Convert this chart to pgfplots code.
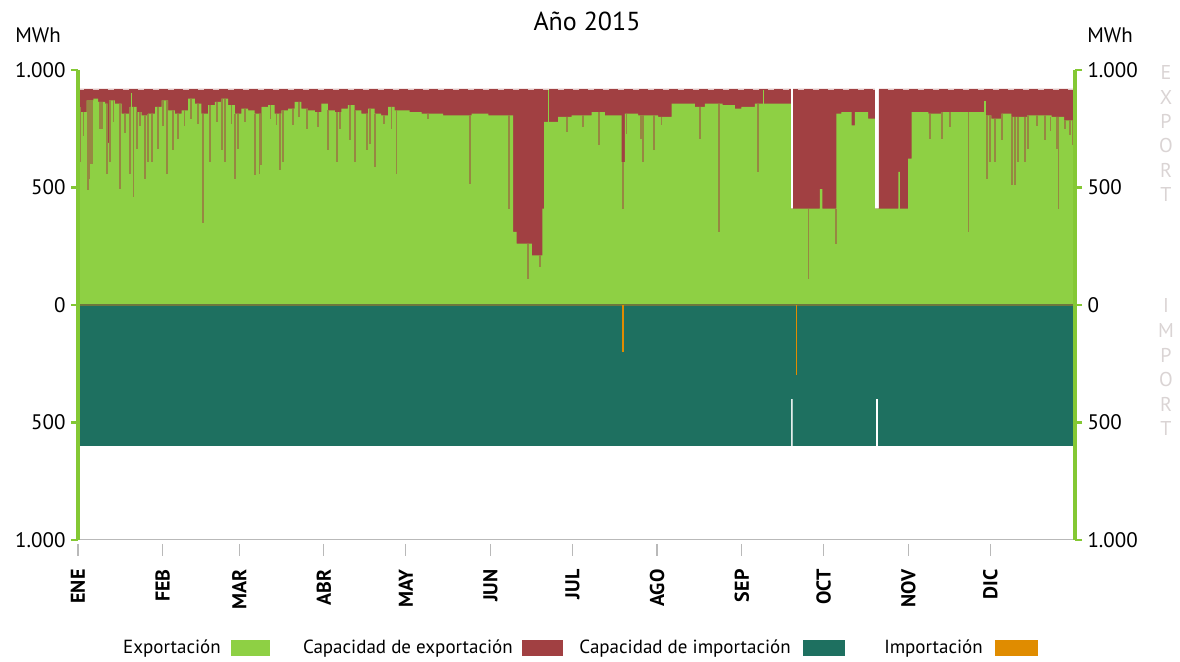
\documentclass[border=0pt]{standalone}
\usepackage{pgfplots}
\pgfplotsset{compat=1.18}
\usepackage{pgfplotstable}
\usepackage{fontspec}
\setmainfont{PT Sans}

\definecolor{expgreen}{RGB}{142,208,68}
\definecolor{capred}{RGB}{161,64,66}
\definecolor{impteal}{RGB}{30,112,96}
\definecolor{imporange}{RGB}{224,140,0}
\definecolor{dipolive}{RGB}{151,135,66}
\definecolor{axgreen}{RGB}{132,200,52}
\definecolor{lblgray}{RGB}{218,212,212}
\definecolor{zeroline}{RGB}{110,118,62}

% export level (MWh), step per day range
\pgfplotstableread{
x y
0 843
0.73 821
3.2 871
5.6 878
7.4 864
9.9 857
10.8 690
11.4 871
13.5 857
16.0 814
19.0 843
21.5 821
23.3 807
25.7 814
28.2 843
30.6 871
33.0 828
35.5 814
37.9 828
40.3 878
42.8 857
45.2 814
47.6 850
50.1 864
52.5 878
55.0 850
57.4 814
59.8 836
62.3 828
64.7 814
67.2 843
69.6 850
72.0 814
74.5 828
76.9 836
79.3 864
81.8 836
84.2 828
86.7 821
89.1 857
91.5 828
94.0 821
96.4 836
98.8 850
101.3 828
103.7 814
106.2 836
108.6 814
111.0 807
113.5 843
115.9 828
121.4 821
125.8 814
133.7 807
144.1 814
150.2 807
159.3 311
160.6 261
166.2 211
170.0 410
170.6 779
175.8 800
180.7 807
188.0 821
192.9 807
199.0 608
200.2 814
205.1 807
212.4 800
217.3 857
225.8 843
229.5 857
236.0 850
240.5 836
242.9 843
247.8 857
261.0 410
271.6 493
272.5 410
277.6 814
279.5 821
283.2 764
284.4 821
289.3 793
291.7 410
300.3 566
300.9 410
303.9 623
305.2 821
311.3 814
316.1 821
332.0 807
334.4 793
338.0 814
341.7 800
347.8 807
356.4 800
361.0 786
365 786
}\export

% short drops of the export: day, level, lowest value
\pgfplotstableread{
x top low
0.7 843 608
2.0 821 720
3.8 871 489
4.4 871 538
5.0 871 600
8.1 864 750
8.7 864 750
10.5 857 559
11.7 871 608
13.0 871 780
15.4 857 495
17.2 814 730
19.0 843 559
20.3 843 460
21.5 821 665
22.6 821 760
24.5 807 538
25.7 814 608
27.0 814 608
29.4 843 665
31.2 871 760
32.5 871 559
34.9 828 658
36.7 814 708
39.0 828 760
41.5 878 790
44.0 857 770
45.9 814 347
48.3 850 608
50.8 864 780
52.6 878 658
53.8 878 608
56.2 850 770
57.5 814 538
58.7 814 665
61.0 836 780
64.8 814 552
66.6 814 559
67.2 843 594
70.5 850 790
72.7 814 764
73.9 814 573
75.1 828 608
78.8 836 764
81.0 864 800
83.7 836 750
87.9 821 757
91.6 828 658
94.7 821 608
95.9 821 750
99.6 850 700
101.4 828 608
105.7 814 658
106.9 836 686
108.7 814 587
112.0 807 770
114.8 843 750
116.6 828 559
128.0 814 790
143.5 807 516
157.8 807 410
164.8 261 112
169.1 211 161
178.9 800 736
185.0 807 757
190.8 821 679
199.6 608 410
200.8 814 729
206.0 807 708
206.9 807 608
210.9 807 658
213.6 800 764
227.7 843 708
234.7 857 311
249.0 857 566
267.4 410 112
277.4 410 261
311.9 814 708
316.2 821 708
319.3 821 757
326.0 821 311
332.7 807 538
333.9 807 608
335.7 793 608
338.2 814 700
341.8 800 512
343.0 800 512
344.2 800 608
346.7 800 608
347.9 807 665
351.0 807 760
354.0 807 700
356.0 800 740
358.3 800 665
358.9 800 410
361.3 786 750
363.1 786 722
364.4 786 679
}\dips

\begin{document}
\begin{tikzpicture}[x=1pt,y=1pt]
\path[use as bounding box] (0,0) rectangle (1180,661);

\begin{axis}[
  at={(78pt,121pt)}, anchor=south west,
  scale only axis, width=997pt, height=470pt,
  xmin=0, xmax=365, ymin=-1000, ymax=1000,
  clip=false,
  axis line style={draw=none},
  ytick={-1000,-500,0,500,1000},
  yticklabels={{1.000},{500},{0},{500},{1.000}},
  ytick pos=left,
  ytick style={axgreen, line width=2.6pt},
  tick align=outside, major tick length=7pt,
  yticklabel style={font=\fontsize{21}{23}\selectfont, xshift=-2pt},
  xtick={0,31,59,90,120,151,181,212,243,273,304,334},
  xticklabels={ENE,FEB,MAR,ABR,MAY,JUN,JUL,AGO,SEP,OCT,NOV,DIC},
  xtick pos=bottom,
  xtick style={draw=none},
  xticklabel style={rotate=90, anchor=east, font=\bfseries\fontsize{20}{21}\selectfont, xshift=-19pt},
]
% export capacity
\addplot[fill=capred, draw=none] coordinates {
 (0,920) (261.0,920) (261.0,410) (261.8,410) (261.8,920)
 (291.7,920) (291.7,410) (293.2,410) (293.2,920) (365,920)} \closedcycle;
% export
\addplot[const plot, fill=expgreen, draw=none] table[x=x,y=y] {\export} \closedcycle;
\addplot[ycomb, draw=dipolive, line width=1.8pt] table[x=x,y=top] {\dips};
\addplot[ycomb, draw=expgreen, line width=2.5pt] table[x=x,y=low] {\dips};
\addplot[ycomb, draw=expgreen, line width=1.3pt] coordinates {(19.5,900) (172.2,918) (250.9,915) (332.0,866)};
% import capacity
\addplot[fill=impteal, draw=none] coordinates {
 (0,-600) (261.1,-600) (261.1,-400) (261.6,-400) (261.6,-600)
 (292.1,-600) (292.1,-400) (292.9,-400) (292.9,-600) (365,-600)} \closedcycle;
\addplot[zeroline, line width=1.2pt] coordinates {(0,0) (365,0)};
% import
\addplot[ycomb, draw=imporange, line width=1.6pt] coordinates {(199.6,-199) (263.0,-298)};
\addplot[white, line width=1pt, opacity=0.7, dash pattern=on 6pt off 9pt] coordinates {(0,918) (365,918)};

\draw[gray!55, line width=1pt] (rel axis cs:0,0) -- (rel axis cs:1,0);
\draw[axgreen, line width=3.4pt] (rel axis cs:0,0) -- (rel axis cs:0,1);
\draw[axgreen, line width=3.4pt] (rel axis cs:1,0) -- (rel axis cs:1,1);
\end{axis}

\begin{axis}[
  at={(78pt,121pt)}, anchor=south west,
  scale only axis, width=997pt, height=470pt,
  xmin=0, xmax=365, ymin=-1000, ymax=1000,
  axis line style={draw=none},
  xtick=\empty,
  ytick={-1000,-500,0,500,1000},
  yticklabels={{1.000},{500},{0},{500},{1.000}},
  ytick pos=right, yticklabel pos=right,
  ytick style={axgreen, line width=2.6pt},
  tick align=outside, major tick length=7pt,
  yticklabel style={font=\fontsize{21}{23}\selectfont, xshift=2pt},
]
\end{axis}

% month tick marks
\foreach \m in {0,31,59,90,120,151,181,212,243,273,304,334}
  \draw[gray!55, line width=1.3pt] ({78+\m*2.7315},117) -- ++(0,-12);

\node[font=\fontsize{26}{28}\selectfont, anchor=base] at (587,630) {Año 2015};
\node[font=\fontsize{21}{23}\selectfont, anchor=base] at (38,618) {MWh};
\node[font=\fontsize{21}{23}\selectfont, anchor=base] at (1110,618) {MWh};

\foreach \l [count=\i] in {E,X,P,O,R,T}
  \node[text=lblgray, font=\fontsize{20}{22}\selectfont] at (1166,{661-73-(\i-1)*24.3}) {\l};
\foreach \l [count=\i] in {I,M,P,O,R,T}
  \node[text=lblgray, font=\fontsize{20}{22}\selectfont] at (1166,{661-306-(\i-1)*24.5}) {\l};

\begin{scope}[font=\fontsize{19}{21}\selectfont]
\node[anchor=base east, inner sep=0] at (221,8) {Exportación};
\fill[expgreen] (231,5) rectangle (270,21);
\node[anchor=base east, inner sep=0] at (513,8) {Capacidad de exportación};
\fill[capred] (522,5) rectangle (563,21);
\node[anchor=base east, inner sep=0] at (791,8) {Capacidad de importación};
\fill[impteal] (803,5) rectangle (845,21);
\node[anchor=base east, inner sep=0] at (983,8) {Importación};
\fill[imporange] (995,5) rectangle (1038,21);
\end{scope}
\end{tikzpicture}
\end{document}
